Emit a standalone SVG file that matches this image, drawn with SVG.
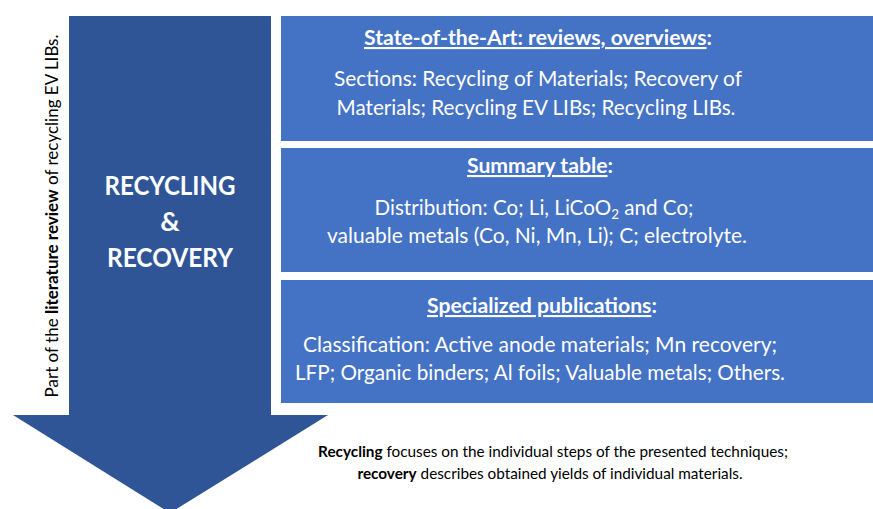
<svg xmlns="http://www.w3.org/2000/svg" width="873" height="509" viewBox="0 0 873 509">
<style>
.box{fill:#4472C4;}
.arrow{fill:#2F5597;}
.t{font-family:Lato,"Liberation Sans",sans-serif;fill:#ffffff;text-anchor:middle;font-size:22px;}
.h{font-size:21.2px;font-weight:bold;}
.b{font-weight:bold;}
.u{text-decoration:underline;}
.side{font-family:Lato,"Liberation Sans",sans-serif;fill:#000000;font-size:17px;text-anchor:middle;}
.note{font-family:Lato,"Liberation Sans",sans-serif;fill:#000000;font-size:15.3px;text-anchor:middle;}
.big{font-family:Lato,"Liberation Sans",sans-serif;fill:#ffffff;font-size:27px;font-weight:bold;text-anchor:middle;}
</style>
<rect width="873" height="509" fill="#ffffff"/>
<g id="arrow">
<polygon class="arrow" points="69,16 271,16 271,415 328,415 170,513 13,415 69,415"/>
<text class="big" x="170" y="195" textLength="131" lengthAdjust="spacingAndGlyphs">RECYCLING</text>
<text class="big" x="170" y="231">&amp;</text>
<text class="big" x="170" y="267" textLength="126" lengthAdjust="spacingAndGlyphs">RECOVERY</text>
</g>
<g id="side-label">
<text class="side" transform="translate(58,216) rotate(-90)" x="0" y="0">Part of the <tspan class="b">literature review</tspan> of recycling EV LIBs.</text>
</g>
<g id="state-of-the-art">
<rect class="box" x="281" y="16" width="592" height="125"/>
<text class="t h" x="538" y="45"><tspan class="u">State-of-the-Art: reviews, overviews</tspan>:</text>
<text class="t" x="538" y="86" textLength="408" lengthAdjust="spacingAndGlyphs">Sections: Recycling of Materials; Recovery of</text>
<text class="t" x="536" y="115" textLength="399" lengthAdjust="spacingAndGlyphs">Materials; Recycling EV LIBs; Recycling LIBs.</text>
</g>
<g id="summary-table">
<rect class="box" x="281" y="148" width="592" height="124"/>
<text class="t h" x="540" y="173"><tspan class="u">Summary table</tspan>:</text>
<text class="t" x="534" y="215" style="font-size:20.6px">Distribution: Co; Li, LiCoO<tspan style="font-size:13.5px" dy="4">2</tspan><tspan dy="-4"> and Co;</tspan></text>
<text class="t" x="537" y="243" textLength="420" lengthAdjust="spacingAndGlyphs">valuable metals (Co, Ni, Mn, Li); C; electrolyte.</text>
</g>
<g id="specialized-publications">
<rect class="box" x="281" y="280" width="592" height="123"/>
<text class="t h" x="542" y="313"><tspan class="u">Specialized publications</tspan>:</text>
<text class="t" x="540" y="352" textLength="474" lengthAdjust="spacingAndGlyphs">Classification: Active anode materials; Mn recovery;</text>
<text class="t" x="540" y="380" textLength="490" lengthAdjust="spacingAndGlyphs">LFP; Organic binders; Al foils; Valuable metals; Others.</text>
</g>
<g id="note">
<text class="note" x="553" y="457"><tspan class="b">Recycling</tspan> focuses on the individual steps of the presented techniques;</text>
<text class="note" x="550" y="479"><tspan class="b">recovery</tspan> describes obtained yields of individual materials.</text>
</g>
<g id="connectors"></g>
</svg>
